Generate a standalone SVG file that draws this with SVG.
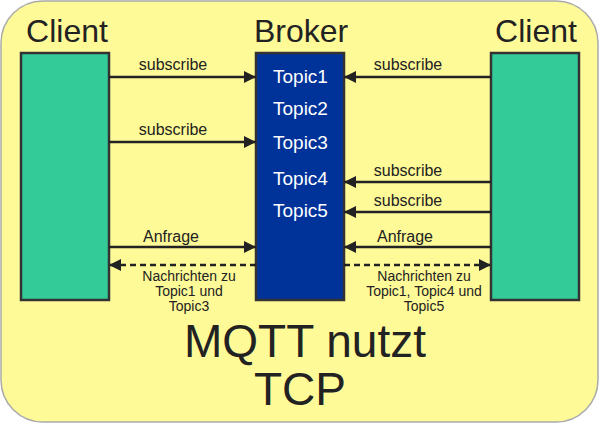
<svg xmlns="http://www.w3.org/2000/svg" width="600" height="424" viewBox="0 0 600 424">
<style>
text{font-family:"Liberation Sans",Arial,sans-serif;fill:#222}
.h{font-size:32px;text-anchor:middle}
.l{font-size:16px;text-anchor:middle}
.s{font-size:14px;text-anchor:middle}
.t{font-size:19px;fill:#fff}
.c{fill:#33CC99;stroke:#333;stroke-width:2.5}
.ln{stroke:#222;stroke-width:2.5;fill:none}
.d{stroke-dasharray:6 4}
.big{font-size:46px;text-anchor:middle}
</style>
<defs>
<marker id="a" viewBox="0 0 12 12" refX="12" refY="6" markerWidth="12" markerHeight="12" markerUnits="userSpaceOnUse" orient="auto">
<path d="M0,0 L12,6 L0,12 Z" fill="#222"/>
</marker>
</defs>
<rect x="1" y="1" width="597" height="421" rx="42" fill="#FFFA98" stroke="#AAA" stroke-width="1.5"/>
<g id="client-left">
<rect class="c" x="21" y="53" width="88" height="247"/>
<text class="h" x="67" y="42">Client</text>
</g>
<g id="broker">
<rect x="256" y="53" width="88" height="247" fill="#003399" stroke="#333" stroke-width="2.5"/>
<text class="h" x="301" y="42">Broker</text>
<text class="t" x="273" y="83">Topic1</text>
<text class="t" x="273" y="115">Topic2</text>
<text class="t" x="273" y="149">Topic3</text>
<text class="t" x="273" y="185">Topic4</text>
<text class="t" x="273" y="217">Topic5</text>
</g>
<g id="client-right">
<rect class="c" x="491" y="53" width="88" height="247"/>
<text class="h" x="536" y="42">Client</text>
</g>
<g id="connectors">
<line class="ln" x1="109" y1="77" x2="256" y2="77" marker-end="url(#a)"/>
<line class="ln" x1="109" y1="142" x2="256" y2="142" marker-end="url(#a)"/>
<line class="ln" x1="491" y1="77" x2="344" y2="77" marker-end="url(#a)"/>
<line class="ln" x1="491" y1="182" x2="344" y2="182" marker-end="url(#a)"/>
<line class="ln" x1="491" y1="212" x2="344" y2="212" marker-end="url(#a)"/>
<line class="ln" x1="109" y1="247" x2="256" y2="247" marker-end="url(#a)"/>
<line class="ln" x1="491" y1="247" x2="344" y2="247" marker-end="url(#a)"/>
<line class="ln d" x1="256" y1="265" x2="109" y2="265" marker-end="url(#a)"/>
<line class="ln d" x1="344" y1="265" x2="491" y2="265" marker-end="url(#a)"/>
<text class="l" x="173" y="70">subscribe</text>
<text class="l" x="173" y="135">subscribe</text>
<text class="l" x="408" y="70">subscribe</text>
<text class="l" x="408" y="176">subscribe</text>
<text class="l" x="408" y="206">subscribe</text>
<text class="l" x="171" y="242">Anfrage</text>
<text class="l" x="405" y="242">Anfrage</text>
<text class="s" x="189" y="281">Nachrichten zu</text>
<text class="s" x="189" y="296">Topic1 und</text>
<text class="s" x="189" y="311">Topic3</text>
<text class="s" x="424" y="281">Nachrichten zu</text>
<text class="s" x="424" y="296">Topic1, Topic4 und</text>
<text class="s" x="424" y="311">Topic5</text>
</g>
<text class="big" x="305" y="357">MQTT nutzt</text>
<text class="big" x="300" y="405">TCP</text>
</svg>
